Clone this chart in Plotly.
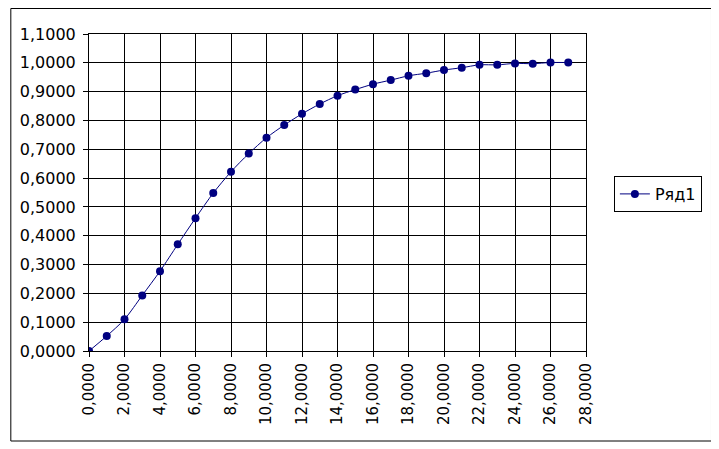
import plotly.graph_objects as go

x_vals = list(range(0, 28))
y_vals = [0.000, 0.052, 0.110, 0.193, 0.277, 0.370, 0.461, 0.548, 0.622, 0.685,
          0.740, 0.784, 0.823, 0.857, 0.886, 0.907, 0.926, 0.940, 0.955, 0.964,
          0.975, 0.983, 0.993, 0.993, 0.998, 0.997, 1.001, 1.001]
series_name = "Ряд1"

OFF = 8  # default body margin of the page
W, H = 719 - OFF, 449 - OFF
# plot area in page pixel coordinates
L, R, T, B = 87, 586, 34, 351

fig = go.Figure()
fig.add_trace(go.Scatter(
    x=x_vals, y=y_vals, name=series_name, mode="lines+markers",
    line=dict(color="#000080", width=1, shape="spline", smoothing=0.8),
    marker=dict(color="#000080", size=8, symbol="circle"),
))

xfont = dict(family="DejaVu Sans", size=15, color="black")
yfont = dict(family="DejaVu Sans", size=16, color="black")

fig.update_layout(
    width=W, height=H,
    margin=dict(l=L - OFF, r=719 - R, t=T - OFF, b=449 - B, pad=0),
    paper_bgcolor="white", plot_bgcolor="white",
    separators=", ",
    font=xfont,
    showlegend=True,
    legend=dict(x=(614 - L) / (R - L), y=(B - 194) / (B - T), xanchor="left", yanchor="middle",
                bordercolor="black", borderwidth=1, bgcolor="white",
                font=dict(family="DejaVu Sans", size=16, color="black"),
                itemwidth=30, tracegroupgap=0),
    xaxis=dict(range=[0, 28], dtick=2, tick0=0, tickformat=".4f", tickangle=-90,
               showgrid=True, gridcolor="black", gridwidth=1,
               showline=True, linecolor="black", linewidth=1, mirror=True,
               ticks="outside", ticklen=5, tickcolor="black", zeroline=False,
               tickfont=xfont),
    yaxis=dict(range=[0, 1.1], dtick=0.1, tick0=0, tickformat=".4f",
               showgrid=True, gridcolor="black", gridwidth=1,
               showline=True, linecolor="black", linewidth=1, mirror=True,
               ticks="outside", ticklen=5, tickcolor="black", zeroline=False,
               ticklabelstandoff=4, tickfont=yfont),
)

# outer chart border
fig.add_shape(type="rect", xref="paper", yref="paper",
              x0=(OFF + 0.5 - L) / (R - L), x1=(712 - L) / (R - L),
              y0=(B - 441) / (B - T), y1=(B - OFF - 0.5) / (B - T),
              line=dict(color="black", width=1), fillcolor="rgba(0,0,0,0)", layer="below")

fig.write_html("out.html")
